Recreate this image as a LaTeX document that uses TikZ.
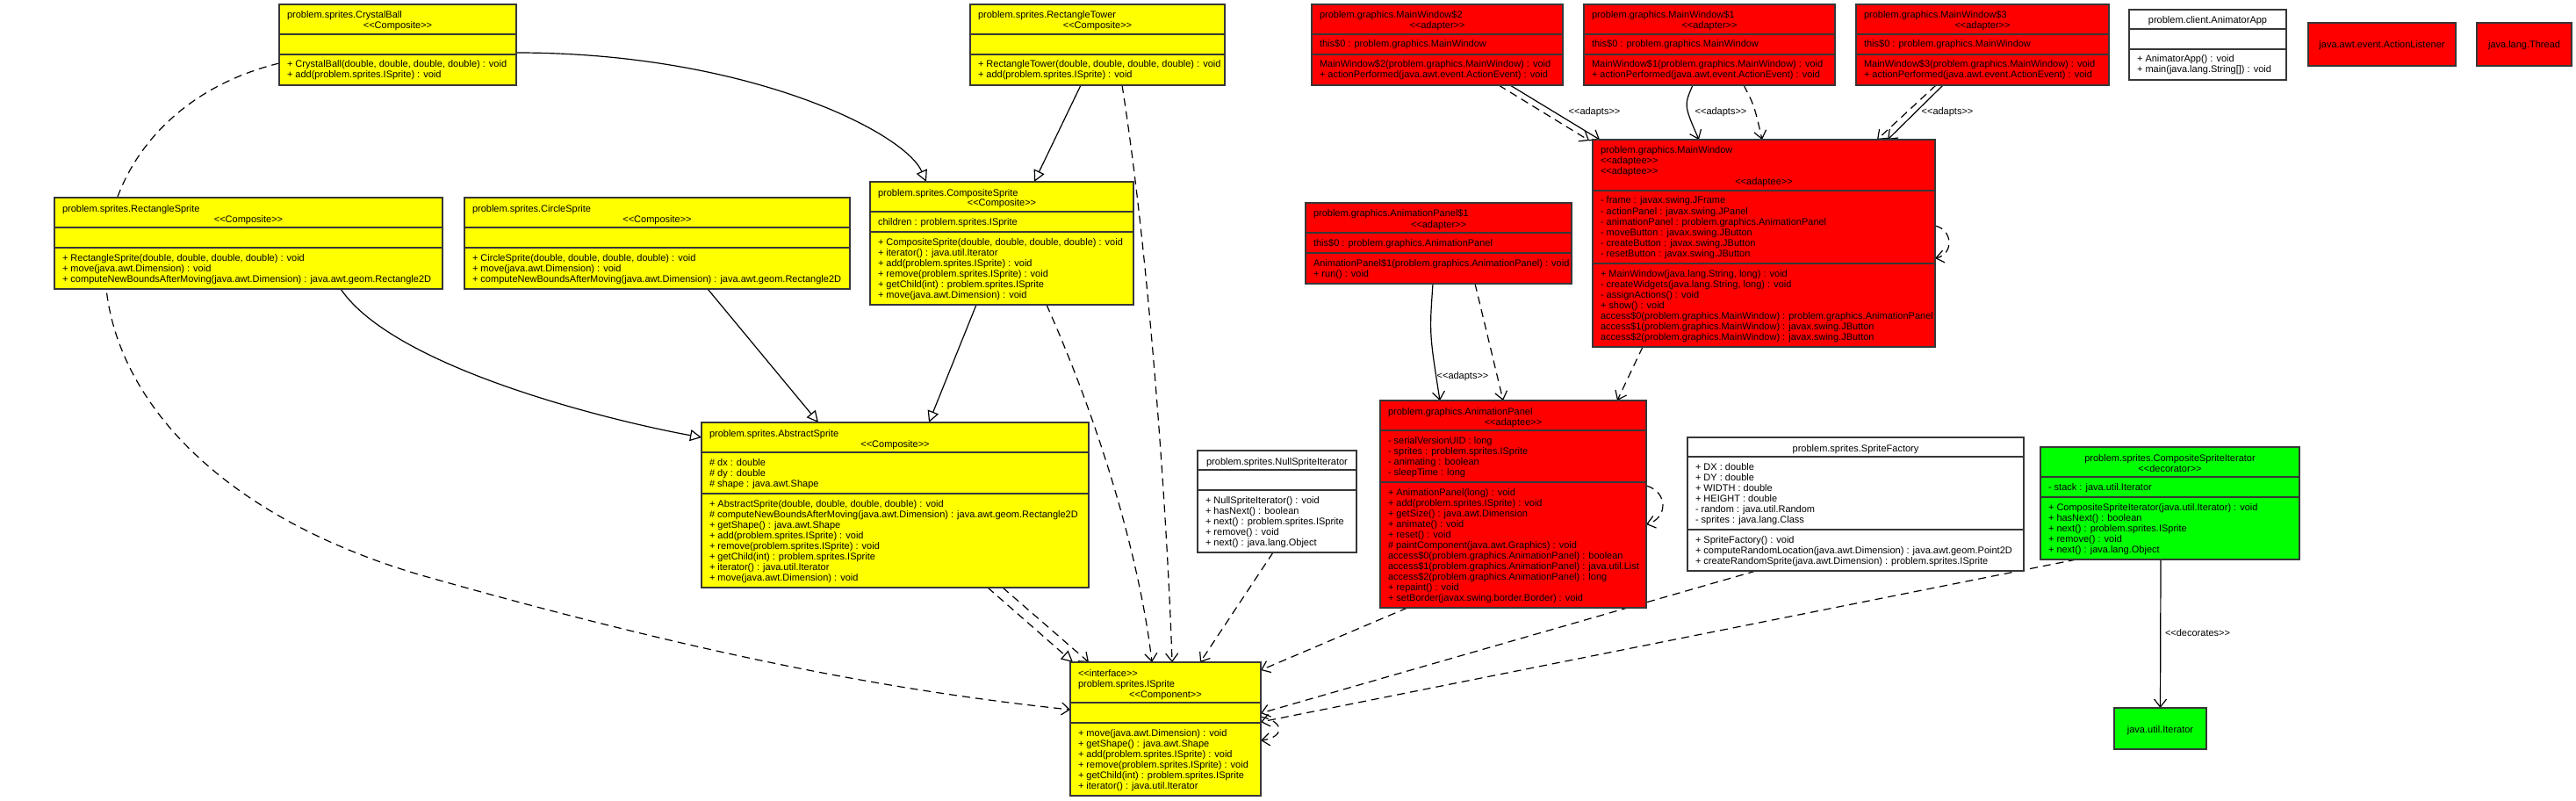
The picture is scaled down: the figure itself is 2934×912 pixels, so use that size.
\documentclass[tikz,border=0pt]{standalone}
\usepackage{fontspec}
\newfontfamily\umlf{Liberation Sans}
\usetikzlibrary{arrows.meta,calc}
\pgfdeclarelayer{paper}
\pgfdeclarelayer{edges}
\pgfsetlayers{paper,edges,main}
\definecolor{yel}{RGB}{255,255,0}
\definecolor{rd}{RGB}{255,0,0}
\definecolor{grn}{RGB}{0,255,0}
\definecolor{bd}{RGB}{55,55,55}
\newcommand\stLt{<\kern0pt<}
\newcommand\stGt{>\kern0pt>}
\tikzset{
  txt/.style={font=\umlf\fontsize{11}{12}\selectfont, inner sep=0pt, outer sep=0pt},
  clsbox/.style={draw=bd, line width=1.5pt, inner sep=0pt, outer sep=0pt, anchor=north west},
  divln/.style={draw=bd, line width=1.5pt},
  dep/.style={line width=1.2pt, dash pattern=on 9pt off 6pt, -{Straight Barb[length=9pt,width=14pt,line width=1.2pt]}},
  assoc/.style={line width=1.2pt, -{Straight Barb[length=9pt,width=14pt,line width=1.2pt]}},
  gen/.style={line width=1.2pt, -{Triangle[open,length=13pt,width=13pt,line width=1.2pt,fill=white]}},
  dgen/.style={line width=1.2pt, dash pattern=on 9pt off 6pt, -{Triangle[open,length=13pt,width=13pt,line width=1.2pt,fill=white]}},
}
% class box: name, x1, y1, x2, y2, fill
\newcommand\umlCls[6]{\node[clsbox, fill=#6, minimum width=#4-#2, minimum height=#5-#3] (#1) at (#2,#3) {};}
% divider: x1, x2, y
\newcommand\umlDiv[3]{\draw[divln] (#1,#3) -- (#2,#3);}
% left lines: prefix, x, first baseline, list
\newcommand\umlLines[4]{\foreach \lt [count=\lc from 0] in {#4} {\node[txt, anchor=base west] (#1-\lc) at (#2,{#3+12*\lc}) {\lt};}}
% centred line: name, x, baseline, text
\newcommand\umlCen[4]{\node[txt, anchor=base] (#1) at (#2,#3) {#4};}
\begin{document}
\begin{tikzpicture}[x=1pt,y=-1pt]
\useasboundingbox (0,0) rectangle (2934,912);
\begin{pgfonlayer}{paper}
\fill[white] (0,0) rectangle (2934,912);
\end{pgfonlayer}

% ---------- CrystalBall
\umlCls{cb}{318}{5}{588}{97}{yel}
\umlDiv{318}{588}{39}\umlDiv{318}{588}{62}
\umlLines{cbt}{327}{21}{{problem.sprites.CrystalBall}}
\umlCen{cbs}{453}{33}{\stLt Composite\stGt}
\umlLines{cbm}{327}{77}{{+ CrystalBall(double, double, double, double) : void},{+ add(problem.sprites.ISprite) : void}}

% ---------- RectangleTower
\umlCls{rt}{1105}{5}{1395}{97}{yel}
\umlDiv{1105}{1395}{39}\umlDiv{1105}{1395}{62}
\umlLines{rtt}{1114}{21}{{problem.sprites.RectangleTower}}
\umlCen{rts}{1250}{33}{\stLt Composite\stGt}
\umlLines{rtm}{1114}{77}{{+ RectangleTower(double, double, double, double) : void},{+ add(problem.sprites.ISprite) : void}}

% ---------- MainWindow$2
\umlCls{mwb}{1494}{5}{1780}{97}{rd}
\umlDiv{1494}{1780}{39}\umlDiv{1494}{1780}{62}
\umlLines{mwbt}{1503}{21}{{problem.graphics.MainWindow\$2}}
\umlCen{mwbs}{1637}{33}{\stLt adapter\stGt}
\umlLines{mwba}{1503}{54}{{this\$0 : problem.graphics.MainWindow}}
\umlLines{mwbm}{1503}{77}{{MainWindow\$2(problem.graphics.MainWindow) : void},{+ actionPerformed(java.awt.event.ActionEvent) : void}}

% ---------- MainWindow$1
\umlCls{mwa}{1804}{5}{2090}{97}{rd}
\umlDiv{1804}{2090}{39}\umlDiv{1804}{2090}{62}
\umlLines{mwat}{1813}{21}{{problem.graphics.MainWindow\$1}}
\umlCen{mwas}{1947}{33}{\stLt adapter\stGt}
\umlLines{mwaa}{1813}{54}{{this\$0 : problem.graphics.MainWindow}}
\umlLines{mwam}{1813}{77}{{MainWindow\$1(problem.graphics.MainWindow) : void},{+ actionPerformed(java.awt.event.ActionEvent) : void}}

% ---------- MainWindow$3
\umlCls{mwc}{2114}{5}{2402}{97}{rd}
\umlDiv{2114}{2402}{39}\umlDiv{2114}{2402}{62}
\umlLines{mwct}{2123}{21}{{problem.graphics.MainWindow\$3}}
\umlCen{mwcs}{2258}{33}{\stLt adapter\stGt}
\umlLines{mwca}{2123}{54}{{this\$0 : problem.graphics.MainWindow}}
\umlLines{mwcm}{2123}{77}{{MainWindow\$3(problem.graphics.MainWindow) : void},{+ actionPerformed(java.awt.event.ActionEvent) : void}}

% ---------- AnimatorApp
\umlCls{app}{2425}{11}{2604}{91}{white}
\umlDiv{2425}{2604}{33}\umlDiv{2425}{2604}{56}
\umlCen{appt}{2514.5}{27}{problem.client.AnimatorApp}
\umlLines{appm}{2434}{71}{{+ AnimatorApp() : void},{+ main(java.lang.String[]) : void}}

% ---------- ActionListener, Thread
\node[clsbox, fill=rd, minimum width=168, minimum height=49] (al) at (2629,26) {};
\umlCen{alt}{2713}{54.5}{java.awt.event.ActionListener}
\node[clsbox, fill=rd, minimum width=108, minimum height=49] (th) at (2821,26) {};
\umlCen{tht}{2875}{54.5}{java.lang.Thread}

% ---------- RectangleSprite
\umlCls{rs}{62}{225}{504}{329}{yel}
\umlDiv{62}{504}{259}\umlDiv{62}{504}{282}
\umlLines{rst}{71}{241}{{problem.sprites.RectangleSprite}}
\umlCen{rss}{283}{253}{\stLt Composite\stGt}
\umlLines{rsm}{71}{297}{{+ RectangleSprite(double, double, double, double) : void},{+ move(java.awt.Dimension) : void},{+ computeNewBoundsAfterMoving(java.awt.Dimension) : java.awt.geom.Rectangle2D}}

% ---------- CircleSprite
\umlCls{ci}{529}{225}{968}{329}{yel}
\umlDiv{529}{968}{259}\umlDiv{529}{968}{282}
\umlLines{cit}{538}{241}{{problem.sprites.CircleSprite}}
\umlCen{cis}{748.5}{253}{\stLt Composite\stGt}
\umlLines{cim}{538}{297}{{+ CircleSprite(double, double, double, double) : void},{+ move(java.awt.Dimension) : void},{+ computeNewBoundsAfterMoving(java.awt.Dimension) : java.awt.geom.Rectangle2D}}

% ---------- CompositeSprite
\umlCls{cs}{991}{207}{1291}{347}{yel}
\umlDiv{991}{1291}{241}\umlDiv{991}{1291}{264}
\umlLines{cst}{1000}{223}{{problem.sprites.CompositeSprite}}
\umlCen{css}{1141}{235}{\stLt Composite\stGt}
\umlLines{csa}{1000}{256}{{children : problem.sprites.ISprite}}
\umlLines{csm}{1000}{279}{{+ CompositeSprite(double, double, double, double) : void},{+ iterator() : java.util.Iterator},{+ add(problem.sprites.ISprite) : void},{+ remove(problem.sprites.ISprite) : void},{+ getChild(int) : problem.sprites.ISprite},{+ move(java.awt.Dimension) : void}}

% ---------- MainWindow
\umlCls{mw}{1814}{159}{2204}{395}{rd}
\umlDiv{1814}{2204}{217}\umlDiv{1814}{2204}{300}
\umlLines{mwt}{1823}{175}{{problem.graphics.MainWindow},{\stLt adaptee\stGt},{\stLt adaptee\stGt}}
\umlCen{mws}{2009}{211}{\stLt adaptee\stGt}
\umlLines{mwf}{1823}{232}{{- frame : javax.swing.JFrame},{- actionPanel : javax.swing.JPanel},{- animationPanel : problem.graphics.AnimationPanel},{- moveButton : javax.swing.JButton},{- createButton : javax.swing.JButton},{- resetButton : javax.swing.JButton}}
\umlLines{mwm}{1823}{315}{{+ MainWindow(java.lang.String, long) : void},{- createWidgets(java.lang.String, long) : void},{- assignActions() : void},{+ show() : void},{access\$0(problem.graphics.MainWindow) : problem.graphics.AnimationPanel},{access\$1(problem.graphics.MainWindow) : javax.swing.JButton},{access\$2(problem.graphics.MainWindow) : javax.swing.JButton}}

% ---------- AnimationPanel$1
\umlCls{apa}{1487}{231}{1790}{323}{rd}
\umlDiv{1487}{1790}{265}\umlDiv{1487}{1790}{288}
\umlLines{apat}{1496}{247}{{problem.graphics.AnimationPanel\$1}}
\umlCen{apas}{1638.5}{259}{\stLt adapter\stGt}
\umlLines{apaa}{1496}{280}{{this\$0 : problem.graphics.AnimationPanel}}
\umlLines{apam}{1496}{303}{{AnimationPanel\$1(problem.graphics.AnimationPanel) : void},{+ run() : void}}

% ---------- AbstractSprite
\umlCls{as}{799}{481}{1240}{669}{yel}
\umlDiv{799}{1240}{515}\umlDiv{799}{1240}{562}
\umlLines{ast}{808}{497}{{problem.sprites.AbstractSprite}}
\umlCen{ass}{1019.5}{509}{\stLt Composite\stGt}
\umlLines{asa}{808}{530}{{\# dx : double},{\# dy : double},{\# shape : java.awt.Shape}}
\umlLines{asm}{808}{577}{{+ AbstractSprite(double, double, double, double) : void},{\# computeNewBoundsAfterMoving(java.awt.Dimension) : java.awt.geom.Rectangle2D},{+ getShape() : java.awt.Shape},{+ add(problem.sprites.ISprite) : void},{+ remove(problem.sprites.ISprite) : void},{+ getChild(int) : problem.sprites.ISprite},{+ iterator() : java.util.Iterator},{+ move(java.awt.Dimension) : void}}

% ---------- AnimationPanel
\umlCls{ap}{1572}{456}{1875}{692}{rd}
\umlDiv{1572}{1875}{490}\umlDiv{1572}{1875}{549}
\umlLines{apt}{1581}{472}{{problem.graphics.AnimationPanel}}
\umlCen{aps}{1723.5}{484}{\stLt adaptee\stGt}
\umlLines{apf}{1581}{505}{{- serialVersionUID : long},{- sprites : problem.sprites.ISprite},{- animating : boolean},{- sleepTime : long}}
\umlLines{apm}{1581}{564}{{+ AnimationPanel(long) : void},{+ add(problem.sprites.ISprite) : void},{+ getSize() : java.awt.Dimension},{+ animate() : void},{+ reset() : void},{\# paintComponent(java.awt.Graphics) : void},{access\$0(problem.graphics.AnimationPanel) : boolean},{access\$1(problem.graphics.AnimationPanel) : java.util.List},{access\$2(problem.graphics.AnimationPanel) : long},{+ repaint() : void},{+ setBorder(javax.swing.border.Border) : void}}

% ---------- NullSpriteIterator
\umlCls{nsi}{1364}{513}{1545}{629}{white}
\umlDiv{1364}{1545}{535}\umlDiv{1364}{1545}{558}
\umlCen{nsit}{1454.5}{529}{problem.sprites.NullSpriteIterator}
\umlLines{nsim}{1373}{573}{{+ NullSpriteIterator() : void},{+ hasNext() : boolean},{+ next() : problem.sprites.ISprite},{+ remove() : void},{+ next() : java.lang.Object}}

% ---------- SpriteFactory
\umlCls{sf}{1922}{498}{2305}{650}{white}
\umlDiv{1922}{2305}{520}\umlDiv{1922}{2305}{603}
\umlCen{sft}{2113.5}{514}{problem.sprites.SpriteFactory}
\umlLines{sfa}{1931}{535}{{+ DX : double},{+ DY : double},{+ WIDTH : double},{+ HEIGHT : double},{- random : java.util.Random},{- sprites : java.lang.Class}}
\umlLines{sfm}{1931}{618}{{+ SpriteFactory() : void},{+ computeRandomLocation(java.awt.Dimension) : java.awt.geom.Point2D},{+ createRandomSprite(java.awt.Dimension) : problem.sprites.ISprite}}

% ---------- CompositeSpriteIterator
\umlCls{csi}{2324}{509}{2619}{637}{grn}
\umlDiv{2324}{2619}{543}\umlDiv{2324}{2619}{566}
\umlCen{csit}{2471.5}{525}{problem.sprites.CompositeSpriteIterator}
\umlCen{csis}{2471.5}{537}{\stLt decorator\stGt}
\umlLines{csia}{2333}{558}{{- stack : java.util.Iterator}}
\umlLines{csim}{2333}{581}{{+ CompositeSpriteIterator(java.util.Iterator) : void},{+ hasNext() : boolean},{+ next() : problem.sprites.ISprite},{+ remove() : void},{+ next() : java.lang.Object}}

% ---------- ISprite
\umlCls{is}{1219}{754}{1436}{906}{yel}
\umlDiv{1219}{1436}{800}\umlDiv{1219}{1436}{823}
\umlLines{ist}{1228}{770}{{\stLt interface\stGt},{problem.sprites.ISprite}}
\umlCen{iss}{1327.5}{794}{\stLt Component\stGt}
\umlLines{ism}{1228}{838}{{+ move(java.awt.Dimension) : void},{+ getShape() : java.awt.Shape},{+ add(problem.sprites.ISprite) : void},{+ remove(problem.sprites.ISprite) : void},{+ getChild(int) : problem.sprites.ISprite},{+ iterator() : java.util.Iterator}}

% ---------- java.util.Iterator
\node[clsbox, fill=grn, minimum width=105, minimum height=47] (it) at (2408,806) {};
\umlCen{itt}{2460.5}{834}{java.util.Iterator}

% ================= connectors
\begin{pgfonlayer}{edges}
\draw[gen] ($(cb.north west)+(270,55)$) .. controls (850,60) and (1030,150) .. ($(cs.north west)+(64,0)$);
\draw[dep] ($(cb.north west)+(0,67)$) .. controls (40,140) and (20,520) .. (480,655) .. controls (780,740) and (1000,785) .. ($(is.north west)+(0,54)$);
\draw[gen] ($(rt.north west)+(126,92)$) -- ($(cs.north west)+(187,0)$);
\draw[dep] ($(rt.north west)+(173,92)$) .. controls (1310,300) and (1330,600) .. ($(is.north west)+(116,0)$);
\draw[gen] ($(rs.north west)+(326,104)$) .. controls (450,420) and (700,480) .. ($(as.north west)+(0,17)$);
\draw[gen] ($(ci.north west)+(277,104)$) -- ($(as.north west)+(133,0)$);
\draw[gen] ($(cs.north west)+(121,140)$) -- ($(as.north west)+(259,0)$);
\draw[dep] ($(cs.north west)+(201,140)$) .. controls (1260,500) and (1300,650) .. ($(is.north west)+(93,0)$);
\draw[dgen] ($(as.north west)+(326,188)$) -- ($(is.north west)+(3,0)$);
\draw[dep] ($(as.north west)+(343,188)$) -- ($(is.north west)+(21,0)$);

\draw[dep] ($(mwb.north west)+(213,92)$) -- ($(mw.north west)+(-4,1)$);
\draw[assoc] ($(mwb.north west)+(226,92)$) -- ($(mw.north west)+(8,0)$);
\draw[assoc] ($(mwa.north west)+(124,92)$) .. controls (1918,120) .. ($(mw.north west)+(121,0)$);
\draw[dep] ($(mwa.north west)+(182,92)$) .. controls (1998,120) .. ($(mw.north west)+(193,0)$);
\draw[dep] ($(mwc.north west)+(91,92)$) -- ($(mw.north west)+(324,0)$);
\draw[assoc] ($(mwc.north west)+(99,92)$) -- ($(mw.north west)+(336,0)$);
\draw[dep] ($(mw.north west)+(390,98)$) .. controls (2225,262) and (2225,290) .. ($(mw.north west)+(390,135)$);
\draw[dep] ($(mw.north west)+(57,236)$) -- ($(ap.north west)+(270,0)$);

\draw[assoc] ($(apa.north west)+(145,92)$) .. controls (1628,380) .. ($(ap.north west)+(68,0)$);
\draw[dep] ($(apa.north west)+(193,92)$) -- ($(ap.north west)+(140,0)$);
\draw[dep] ($(ap.north west)+(303,97)$) .. controls (1900,560) and (1900,590) .. ($(ap.north west)+(303,141)$);

\draw[dep] ($(ap.north west)+(31,236)$) -- ($(is.north west)+(217,9)$);
\draw[dep] ($(nsi.north west)+(86,116)$) -- ($(is.north west)+(148,0)$);
\draw[dep] ($(sf.north west)+(78,152)$) -- ($(is.north west)+(217,58)$);
\draw[dep] ($(csi.north west)+(41,128)$) -- ($(is.north west)+(217,68)$);
\draw[dep] ($(is.north west)+(217,62)$) .. controls (1465,822) and (1462,840) .. ($(is.north west)+(217,89)$);

\draw[assoc] ($(csi.north west)+(137,128)$) -- (it.north);
\end{pgfonlayer}
\node[txt, anchor=base] (lb1) at (1816,131) {\stLt adapts\stGt};
\node[txt, anchor=base] (lb2) at (1960,131) {\stLt adapts\stGt};
\node[txt, anchor=base] (lb3) at (2218,131) {\stLt adapts\stGt};
\node[txt, anchor=base] (lb4) at (1666,431) {\stLt adapts\stGt};
\node[txt, anchor=base west] (lb5) at (2466,724) {\stLt decorates\stGt};
\end{tikzpicture}
\end{document}
